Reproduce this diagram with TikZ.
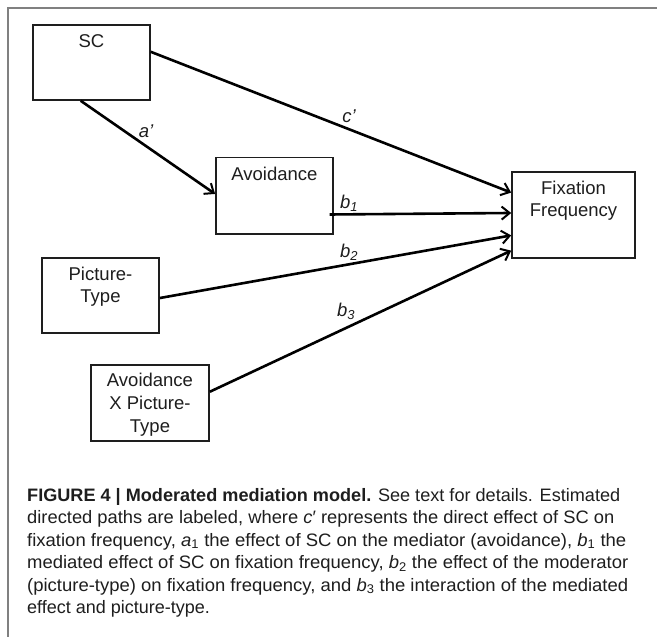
\documentclass[tikz,border=0pt]{standalone}
\usepackage{fontspec}
\usepackage{graphicx}
\setmainfont{Liberation Sans}
\usetikzlibrary{arrows.meta,calc}
\definecolor{ink}{HTML}{1E1E1E}
\newcommand{\capfit}[2]{\resizebox{#1}{\height}{#2}}
\begin{document}
\begin{tikzpicture}[x=1pt,y=-1pt,
  box/.style={draw=ink,line width=1.6pt,inner sep=0pt},
  lab/.style={anchor=north,inner sep=0pt,align=center,text=ink,font=\fontsize{18.5}{22}\selectfont,yshift=-10pt},
  path/.style={draw=black,line width=2.6pt,-{Straight Barb[length=8pt,width=13pt,line width=2pt]}},
  elab/.style={inner sep=0pt,text=ink,font=\fontsize{18.5}{20}\selectfont\itshape},
  capline/.style={anchor=base west,inner sep=0pt,font=\fontsize{18}{22}\selectfont,text=ink}
]
\useasboundingbox[fill=white] (0,0) rectangle (657,637);
\draw[line width=1.4pt,black!50] (8,637) -- (8,8) -- (657,8);

\node[box,minimum width=117pt,minimum height=75pt,label={[lab]north:SC}] (sc) at (91.4,62.5) {};
\node[box,minimum width=117pt,minimum height=76.5pt,label={[lab]north:Avoidance}] (avoid) at (274.4,195.75) {};
\node[box,minimum width=123pt,minimum height=86pt,label={[lab]north:Fixation\\Frequency}] (fix) at (573.5,215) {};
\node[box,minimum width=117pt,minimum height=75pt,label={[lab]north:Picture-\\Type}] (pic) at (100.5,295.5) {};
\node[box,minimum width=118pt,minimum height=76pt,label={[lab,yshift=1pt,font=\fontsize{18.5}{23}\selectfont]north:Avoidance\\X Picture-\\Type}] (avx) at (150,403) {};

\draw[path] ($(sc.north east)!0.36!(sc.south east)$) -- ($(fix.north west)!0.244!(fix.south west)$);
\draw[path] ($(sc.south west)!0.41!(sc.south east)$) -- ($(avoid.north west)!0.477!(avoid.south west)$);
\draw[path] ($(avoid.north east)!0.74!(avoid.south east)+(-4,0)$) -- ($(fix.north west)!0.477!(fix.south west)$);
\draw[path] ($(pic.north east)!0.533!(pic.south east)$) -- ($(fix.north west)!0.733!(fix.south west)$);
\draw[path] ($(avx.north east)!0.355!(avx.south east)$) -- ($(fix.north west)!0.907!(fix.south west)$);

\node[elab] (lc) at (349,116) {c’};
\node[elab] (la) at (146,131) {a’};
\node[elab] (lb1) at (349,203) {b\textsubscript{1}};
\node[elab] (lb2) at (349,252) {b\textsubscript{2}};
\node[elab] (lb3) at (346,311) {b\textsubscript{3}};

\node[capline] (c1) at (27,501) {\capfit{593pt}{\textbf{FIGURE 4 | Moderated mediation model.} See text for details. Estimated}};
\node[capline] (c2) at (27,523.5) {\capfit{587pt}{directed paths are labeled, where \textit{c}′ represents the direct effect of SC on}};
\node[capline] (c3) at (27,546) {\capfit{599pt}{fixation frequency, \textit{a}\textsubscript{1} the effect of SC on the mediator (avoidance), \textit{b}\textsubscript{1} the}};
\node[capline] (c4) at (27,568.5) {\capfit{601pt}{mediated effect of SC on fixation frequency, \textit{b}\textsubscript{2} the effect of the moderator}};
\node[capline] (c5) at (27,591) {\capfit{601pt}{(picture-type) on fixation frequency, and \textit{b}\textsubscript{3} the interaction of the mediated}};
\node[capline] (c6) at (27,613.5) {effect and picture-type.};
\end{tikzpicture}
\end{document}
